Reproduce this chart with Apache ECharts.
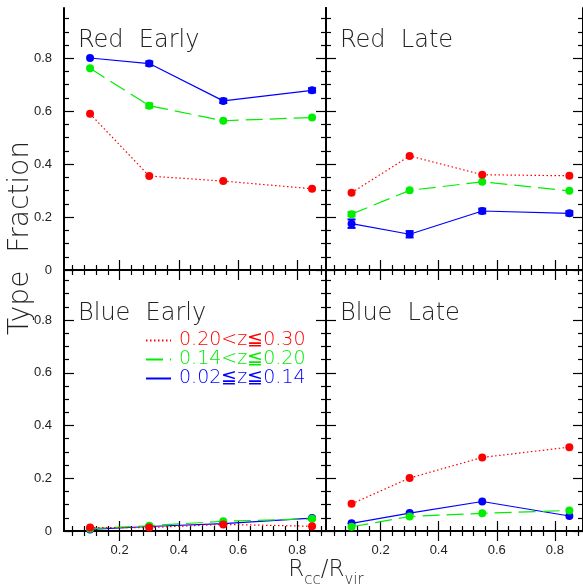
<!DOCTYPE html>
<html><head><meta charset="utf-8">
<script src="https://cdn.jsdelivr.net/npm/echarts@6/dist/echarts.min.js"></script>
<style>html,body{margin:0;padding:0;background:#fff}#c{width:583px;height:587px}</style>
</head><body><div id="c"></div>
<script>
// ---------- data ----------
const xValues = [0.10, 0.30, 0.55, 0.85];
const seriesNames = ['0.20<z≦0.30', '0.14<z≦0.20', '0.02≦z≦0.14'];
const panelTitles = ['Red  Early', 'Red  Late', 'Blue  Early', 'Blue  Late'];

const redEarlyHi  = [0.590, 0.355, 0.336, 0.307];
const redEarlyMid = [0.762, 0.621, 0.564, 0.576];
const redEarlyLo  = [0.801, 0.780, 0.639, 0.679];

const redLateHi  = [0.292, 0.431, 0.360, 0.356];
const redLateMid = [0.211, 0.301, 0.333, 0.299];
const redLateLo  = [0.175, 0.135, 0.223, 0.214];

const blueEarlyHi  = [0.013, 0.013, 0.025, 0.018];
const blueEarlyMid = [0.009, 0.020, 0.037, 0.046];
const blueEarlyLo  = [0.006, 0.017, 0.028, 0.049];

const blueLateHi  = [0.103, 0.201, 0.279, 0.318];
const blueLateMid = [0.016, 0.055, 0.067, 0.078];
const blueLateLo  = [0.029, 0.068, 0.112, 0.057];

// error bars (visible ones)
const redEarlyLoErr  = [0.000, 0.008, 0.008, 0.008];
const redEarlyMidErr = [0.000, 0.008, 0.000, 0.000];
const redLateLoErr   = [0.016, 0.012, 0.009, 0.008];
const redLateMidErr  = [0.008, 0.000, 0.000, 0.000];

const xMajorTicks = [0.2, 0.4, 0.6, 0.8];
const xMinorTicks = [0.04, 0.08, 0.12, 0.16, 0.24, 0.28, 0.32, 0.36, 0.44, 0.48, 0.52, 0.56, 0.64, 0.68, 0.72, 0.76, 0.84, 0.88];
const yMajorTicks = [0, 0.2, 0.4, 0.6, 0.8];
const yMinorTicks = [0.05, 0.1, 0.15, 0.25, 0.3, 0.35, 0.45, 0.5, 0.55, 0.65, 0.7, 0.75, 0.85, 0.9, 0.95];

// ---------- layout ----------
const XMIN = 0.012, XMAX = 0.897, YMIN = 0, YMAX = 0.99;
const colors = ['#ff0000', '#00ee00', '#0000ff'];
const lineTypes = [[1.5, 2.5], [17, 7], 'solid'];
const grids = [
  {left: 64, top: 8, width: 262, height: 262},
  {left: 326, top: 8, width: 262, height: 262},
  {left: 64, top: 270, width: 262, height: 261},
  {left: 326, top: 270, width: 262, height: 261}
];
const panelData = [
  [redEarlyHi, redEarlyMid, redEarlyLo],
  [redLateHi, redLateMid, redLateLo],
  [blueEarlyHi, blueEarlyMid, blueEarlyLo],
  [blueLateHi, blueLateMid, blueLateLo]
];
const panelErr = [
  [null, redEarlyMidErr, redEarlyLoErr],
  [null, redLateMidErr, redLateLoErr],
  [null, null, null],
  [null, null, null]
];
const titlePos = [[78, 29], [340, 29], [78, 302], [340, 302]];
const FONT_T = "'DejaVu Sans ExtraLight', 'DejaVu Sans Light', Inter, 'DejaVu Sans'";
const FONT_L = 'Liberation Sans';

const xAxis = [], yAxis = [], series = [];
grids.forEach((g, gi) => {
  const showX = gi >= 2, showY = gi % 2 === 0;
  ['bottom', 'top'].forEach(pos => {
    xAxis.push({
      type: 'value', gridIndex: gi, position: pos, min: XMIN, max: XMAX,
      axisLine: {show: true, lineStyle: {color: '#000', width: 2}},
      axisTick: {show: true, inside: true, length: 10, customValues: xMajorTicks, lineStyle: {color: '#000', width: 1.2}},
      axisLabel: {show: showX && pos === 'bottom', customValues: xMajorTicks, margin: 13, fontSize: 13, fontFamily: FONT_L, color: '#222'},
      splitLine: {show: false}
    });
    xAxis.push({
      type: 'value', gridIndex: gi, position: pos, min: XMIN, max: XMAX,
      axisLine: {show: false},
      axisTick: {show: true, inside: true, length: 5, customValues: xMinorTicks, lineStyle: {color: '#000', width: 1.2}},
      axisLabel: {show: false}, splitLine: {show: false}
    });
  });
  ['left', 'right'].forEach(pos => {
    yAxis.push({
      type: 'value', gridIndex: gi, position: pos, min: YMIN, max: YMAX,
      axisLine: {show: true, lineStyle: {color: '#000', width: 2}},
      axisTick: {show: true, inside: true, length: 10, customValues: yMajorTicks, lineStyle: {color: '#000', width: 1.2}},
      axisLabel: {show: showY && pos === 'left', customValues: yMajorTicks, margin: 12, fontSize: 13, fontFamily: FONT_L, color: '#222',
        formatter: v => (v === 0 ? '0' : v.toFixed(1))},
      splitLine: {show: false}
    });
    yAxis.push({
      type: 'value', gridIndex: gi, position: pos, min: YMIN, max: YMAX,
      axisLine: {show: false},
      axisTick: {show: true, inside: true, length: 5, customValues: yMinorTicks, lineStyle: {color: '#000', width: 1.2}},
      axisLabel: {show: false}, splitLine: {show: false}
    });
  });
  // draw blue, green, red (red on top)
  [2, 1, 0].forEach(si => {
    const vals = panelData[gi][si];
    const err = panelErr[gi][si];
    if (err) {
      series.push({
        type: 'custom', name: 'err' + gi + si, xAxisIndex: gi * 4, yAxisIndex: gi * 4, z: 3,
        data: xValues.map((x, i) => [x, vals[i], err[i]]).filter(d => d[2] > 0),
        renderItem: (params, api) => {
          const x = api.value(0), y = api.value(1), e = api.value(2);
          const p1 = api.coord([x, y + e]), p2 = api.coord([x, y - e]);
          const w = 4, st = {stroke: colors[si], lineWidth: 2};
          return {type: 'group', children: [
            {type: 'line', shape: {x1: p1[0], y1: p1[1], x2: p2[0], y2: p2[1]}, style: st},
            {type: 'line', shape: {x1: p1[0] - w, y1: p1[1], x2: p1[0] + w, y2: p1[1]}, style: st},
            {type: 'line', shape: {x1: p2[0] - w, y1: p2[1], x2: p2[0] + w, y2: p2[1]}, style: st}
          ]};
        }
      });
    }
    series.push({
      type: 'line', name: seriesNames[si], xAxisIndex: gi * 4, yAxisIndex: gi * 4,
      data: xValues.map((x, i) => [x, vals[i]]),
      symbol: 'circle', symbolSize: 8, showSymbol: true,
      itemStyle: {color: colors[si]},
      lineStyle: {color: colors[si], width: 1.2, type: lineTypes[si]},
      z: 4, animation: false
    });
  });
});

const option = {
  animation: false,
  backgroundColor: '#fff',
  grid: grids.map(g => Object.assign({containLabel: false}, g)),
  xAxis, yAxis, series,
  title: panelTitles.map((t, i) => ({
    text: t, left: titlePos[i][0], top: titlePos[i][1], padding: 0,
    textStyle: {fontFamily: FONT_T, fontWeight: 200, fontSize: 24, color: '#222'}
  })),
  legend: {
    orient: 'vertical', left: 140, top: 326, itemWidth: 25, itemHeight: 14, itemGap: 0,
    selectedMode: false,
    itemStyle: {opacity: 0},
    textStyle: {fontFamily: FONT_T, fontWeight: 200, fontSize: 19, lineHeight: 19, padding: [0, 0, 0, 3]},
    data: seriesNames.map((n, i) => ({name: n, textStyle: {color: colors[i]}}))
  },
  graphic: [
    {type: 'text', x: 21, y: 238, rotation: Math.PI / 2,
      style: {text: 'Type  Fraction', fontFamily: FONT_T, fontWeight: 200, fontSize: 28, fill: '#222',
        align: 'center', verticalAlign: 'middle', textAlign: 'center', textVerticalAlign: 'middle'}},
    {type: 'text', x: 326, y: 571,
      style: {text: '{r|R}{s|cc}{r|/R}{s|vir}', fill: '#222', align: 'center', verticalAlign: 'middle',
        textAlign: 'center', textVerticalAlign: 'middle',
        rich: {
          r: {fontFamily: FONT_T, fontWeight: 200, fontSize: 23, lineHeight: 24, verticalAlign: 'top', fill: '#222', color: '#222'},
          s: {fontFamily: FONT_T, fontWeight: 200, fontSize: 15, lineHeight: 14, verticalAlign: 'top', padding: [14, 0, 0, 0], fill: '#222', color: '#222'}
        }}}
  ]
};
const chart = echarts.init(document.getElementById('c'), null, {renderer: 'canvas'});
chart.setOption(option);
</script></body></html>
